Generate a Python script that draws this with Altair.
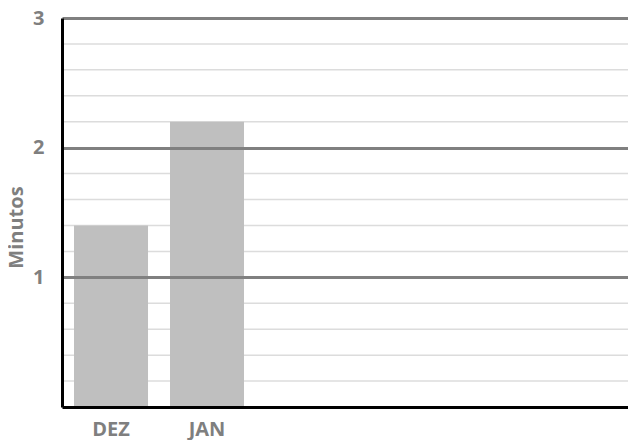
import altair as alt
import pandas as pd

# Data
months = ["DEZ", "JAN"]
minutes = [1.4, 2.2]
# empty category slots on the x axis (no data, no label)
empty_slots = [" ", "  ", "   ", "    "]
major_ticks = [1, 2, 3]
minor_ticks = [0.2, 0.4, 0.6, 0.8, 1.2, 1.4, 1.6, 1.8, 2.2, 2.4, 2.6, 2.8]

bars_df = pd.DataFrame({"Mes": months, "Minutos": minutes})
minor_df = pd.DataFrame({"Minutos": minor_ticks})

FONT = "Open Sans"
LABEL_COLOR = "#7f7f7f"

y_scale = alt.Scale(domain=[0, 3], nice=False, zero=True)

y_axis = alt.Axis(
    values=major_ticks,
    title="Minutos",
    grid=True,
    gridColor="#808080",
    gridWidth=3,
    ticks=False,
    domainColor="black",
    domainWidth=3,
    labelFont=FONT,
    labelFontSize=20,
    labelFontWeight="bold",
    labelColor=LABEL_COLOR,
    labelPadding=18,
    titleFont=FONT,
    titleFontSize=20,
    titleFontWeight="bold",
    titleColor=LABEL_COLOR,
    titlePadding=6,
    titleY=209,
    zindex=1,
)

minor = alt.Chart(minor_df).mark_rule(color="#dcdcdc", strokeWidth=1.5).encode(
    y=alt.Y("Minutos:Q", scale=y_scale, axis=y_axis)
)

bars = alt.Chart(bars_df).mark_bar(color="#bfbfbf").encode(
    x=alt.X(
        "Mes:N",
        scale=alt.Scale(
            domain=months + empty_slots, paddingInner=0.229, paddingOuter=0.0625, align=1
        ),
        axis=alt.Axis(
            title=None,
            labelAngle=0,
            ticks=False,
            domainColor="black",
            domainWidth=3,
            labelFont=FONT,
            labelFontSize=20,
            labelFontWeight="bold",
            labelColor=LABEL_COLOR,
            labelPadding=12,
            grid=False,
            zindex=1,
        ),
    ),
    y=alt.Y("Minutos:Q", scale=y_scale, axis=y_axis),
)

chart = (
    alt.layer(minor, bars)
    .resolve_scale(y="shared")
    .properties(
        width=566,
        height=389,
        autosize=alt.AutoSizeParams(type="none"),
        padding={"left": 54, "top": 10, "right": 0, "bottom": 33},
    )
    .configure_view(stroke=None)
)

chart.save("out.html", embed_options={"renderer": "svg", "actions": False})
